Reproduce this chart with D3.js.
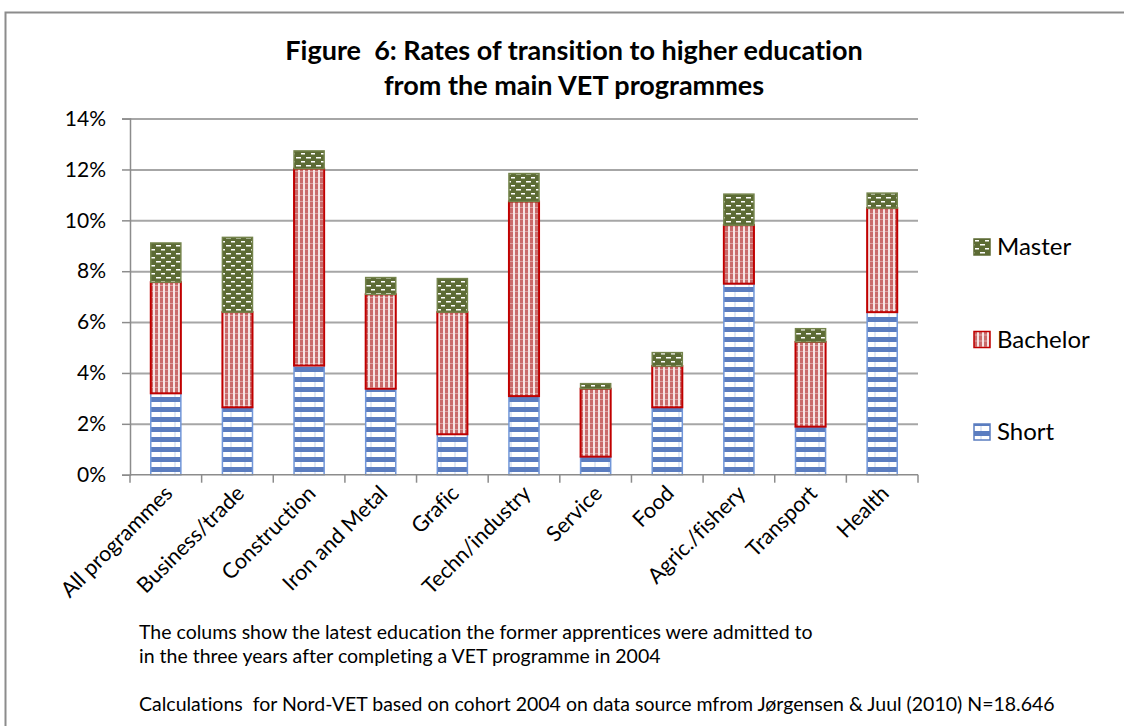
<!DOCTYPE html>
<html>
<head>
<meta charset="utf-8">
<script src="https://cdn.jsdelivr.net/npm/d3@7"></script>
<style>
  body { margin: 0; background: #fff; }
  svg { display: block; font-family: Lato, "Open Sans", sans-serif; }
  text { white-space: pre; font-variant-ligatures: none; font-feature-settings: "liga" 0; }
</style>
</head>
<body>
<div id="chart"></div>
<script>
// data (share of cohort, in %)
var categories = ['All programmes', 'Business/trade', 'Construction', 'Iron and Metal', 'Grafic',
  'Techn/industry', 'Service', 'Food', 'Agric./fishery', 'Transport', 'Health'];
var shortVals    = [3.20, 2.65, 4.29, 3.38, 1.59, 3.09, 0.71, 2.65, 7.51, 1.89, 6.39];
var bachelorVals = [4.37, 3.74, 7.74, 3.71, 4.80, 7.65, 2.67, 1.62, 2.30, 3.33, 4.09];
var masterVals   = [1.54, 2.94, 0.70, 0.66, 1.32, 1.10, 0.20, 0.53, 1.22, 0.52, 0.59];
var seriesNames = ['Short', 'Bachelor', 'Master'];
var yTicks = [0, 2, 4, 6, 8, 10, 12, 14];
var titleLines = ['Figure  6: Rates of transition to higher education', 'from the main VET programmes'];
var notes = [
  'The colums show the latest education the former apprentices were admitted to',
  'in the three years after completing a VET programme in 2004',
  'Calculations  for Nord-VET based on cohort 2004 on data source mfrom J\u00f8rgensen & Juul (2010) N=18.646'
];

var width = 1124, height = 726;
var plotLeft = 130, plotRight = 918, plotTop = 118.6, plotBottom = 474.7;

var svg = d3.select('#chart').append('svg')
  .attr('width', width)
  .attr('height', height);

// fill patterns, roughly like the Excel pattern fills
var defs = svg.append('defs');

var pShort = defs.append('pattern').attr('id', 'pShort')
  .attr('patternUnits', 'userSpaceOnUse').attr('width', 14).attr('height', 10);
pShort.append('rect').attr('width', 14).attr('height', 10).attr('fill', '#5b7dc0');
pShort.append('rect').attr('y', 2).attr('width', 14).attr('height', 5).attr('fill', '#ffffff');
pShort.append('rect').attr('x', 6.5).attr('y', 2).attr('width', 1).attr('height', 5).attr('fill', '#c5d3ee');

var pBach = defs.append('pattern').attr('id', 'pBach')
  .attr('patternUnits', 'userSpaceOnUse').attr('width', 5).attr('height', 6);
pBach.append('rect').attr('width', 5).attr('height', 6).attr('fill', '#c96a6a');
pBach.append('rect').attr('x', 3).attr('width', 2).attr('height', 6).attr('fill', '#f6e4e4');
pBach.append('rect').attr('y', 3).attr('width', 3).attr('height', 1).attr('fill', '#dca0a0');

var pMaster = defs.append('pattern').attr('id', 'pMaster')
  .attr('patternUnits', 'userSpaceOnUse').attr('width', 10).attr('height', 8);
pMaster.append('rect').attr('width', 10).attr('height', 8).attr('fill', '#5c6b34');
pMaster.append('rect').attr('x', 1).attr('y', 1).attr('width', 4).attr('height', 1.5).attr('fill', '#ffffff');
pMaster.append('rect').attr('x', 6).attr('y', 5).attr('width', 4).attr('height', 1.5).attr('fill', '#ffffff');
pMaster.append('rect').attr('x', 0).attr('y', 5).attr('width', 1).attr('height', 1.5).attr('fill', '#ffffff');

var fills = { Short: 'url(#pShort)', Bachelor: 'url(#pBach)', Master: 'url(#pMaster)' };
var strokes = { Short: '#7196d8', Bachelor: '#c00000', Master: '#74844c' };
var swatch = { Short: '#5b7dc0', Bachelor: '#c00000', Master: '#5c6b34' };

// outer frame of the chart object
svg.append('rect')
  .attr('x', 5.5).attr('y', 12.5)
  .attr('width', 1200).attr('height', 800)
  .attr('fill', 'none')
  .attr('stroke', '#8c8c8c')
  .attr('stroke-width', 2);

// title
svg.append('g').selectAll('text')
  .data(titleLines)
  .enter()
  .append('text')
  .attr('x', 574)
  .attr('y', function(d, i) { return 60 + i * 35; })
  .attr('text-anchor', 'middle')
  .attr('font-size', 27)
  .attr('font-weight', 'bold')
  .attr('fill', '#000')
  .text(function(d) { return d; });

// scales
var x = d3.scaleBand().domain(categories).range([plotLeft, plotRight])
  .paddingInner(0.58).paddingOuter(0.29);
var xSlot = d3.scaleBand().domain(categories).range([plotLeft, plotRight]);
var y = d3.scaleLinear().domain([0, 14]).range([plotBottom, plotTop]);

// grid lines
svg.append('g')
  .attr('transform', 'translate(' + plotLeft + ',0)')
  .call(d3.axisLeft(y).tickValues(yTicks.slice(1)).tickSize(-(plotRight - plotLeft)).tickFormat(''))
  .call(function(g) {
    g.select('.domain').remove();
    g.selectAll('line').attr('stroke', '#a6a6a6').attr('stroke-width', 2);
  });

// stacked bars
var rows = categories.map(function(c, i) {
  return { cat: c, Short: shortVals[i], Bachelor: bachelorVals[i], Master: masterVals[i] };
});
var stacked = d3.stack().keys(seriesNames)(rows);

var layers = svg.append('g').selectAll('g')
  .data(stacked)
  .enter()
  .append('g');

layers.selectAll('rect')
  .data(function(d) { return d.map(function(p) { return { key: d.key, p: p }; }); })
  .enter()
  .append('rect')
  .attr('x', function(d) { return x(d.p.data.cat); })
  .attr('y', function(d) { return y(d.p[1]); })
  .attr('width', x.bandwidth())
  .attr('height', function(d) { return y(d.p[0]) - y(d.p[1]); })
  .attr('fill', function(d) { return fills[d.key]; })
  .attr('stroke', function(d) { return strokes[d.key]; })
  .attr('stroke-width', function(d) { return d.key == 'Bachelor' ? 2 : 1.5; });

// y axis
svg.append('g')
  .attr('transform', 'translate(' + plotLeft + ',0)')
  .call(d3.axisLeft(y).tickValues(yTicks).tickSize(8).tickPadding(16)
    .tickFormat(function(d) { return d + '%'; }))
  .call(function(g) {
    g.select('.domain').attr('stroke', '#8c8c8c').attr('stroke-width', 1.5);
    g.selectAll('line').attr('stroke', '#8c8c8c').attr('stroke-width', 1.5);
    g.selectAll('text').attr('font-size', 21).attr('font-family', 'Lato, sans-serif').attr('fill', '#000');
  });

// x axis: line plus ticks between categories
var xAxis = svg.append('g').attr('transform', 'translate(0,' + plotBottom + ')');
xAxis.append('line')
  .attr('x1', plotLeft).attr('x2', plotRight)
  .attr('stroke', '#8c8c8c').attr('stroke-width', 1.5);
xAxis.selectAll('.tk')
  .data(categories.map(function(c) { return xSlot(c); }).concat([plotRight]))
  .enter()
  .append('line')
  .attr('class', 'tk')
  .attr('x1', function(d) { return d; }).attr('x2', function(d) { return d; })
  .attr('y1', 0).attr('y2', 8)
  .attr('stroke', '#8c8c8c').attr('stroke-width', 1.5);

xAxis.selectAll('.lbl')
  .data(categories)
  .enter()
  .append('text')
  .attr('class', 'lbl')
  .attr('transform', function(d) {
    return 'translate(' + (x(d) + x.bandwidth() / 2 + 8) + ',' + 20 + ') rotate(-45)';
  })
  .attr('text-anchor', 'end')
  .attr('font-size', 21.5)
  .attr('fill', '#000')
  .text(function(d) { return d; });

// legend
var legend = svg.append('g').selectAll('g')
  .data(seriesNames.slice().reverse())
  .enter()
  .append('g')
  .attr('transform', function(d, i) { return 'translate(974,' + (239 + i * 92.5) + ')'; });

legend.append('rect')
  .attr('width', 16).attr('height', 16)
  .attr('fill', function(d) { return fills[d]; })
  .attr('stroke', function(d) { return swatch[d]; })
  .attr('stroke-width', 1.5);

legend.append('text')
  .attr('x', 23).attr('y', 16)
  .attr('font-size', 24)
  .attr('fill', '#000')
  .text(function(d) { return d; });

// notes under the chart
svg.append('g').selectAll('text')
  .data(notes)
  .enter()
  .append('text')
  .attr('x', 139)
  .attr('y', function(d, i) { return i < 2 ? 639 + i * 24 : 711; })
  .attr('font-size', 19.5)
  .attr('fill', '#000')
  .text(function(d) { return d; });
</script>
</body>
</html>
